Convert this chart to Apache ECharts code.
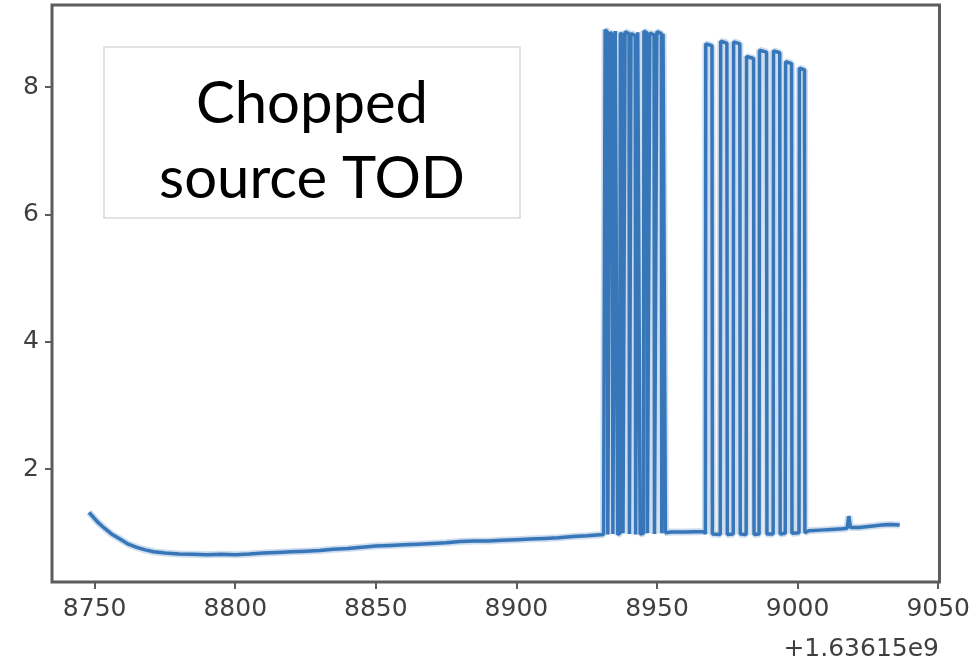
<!DOCTYPE html>
<html>
<head>
<meta charset="utf-8">
<title>Chopped source TOD</title>
<script src="https://cdn.jsdelivr.net/npm/echarts@6/dist/echarts.min.js"></script>
<style>
  html, body { margin: 0; padding: 0; background: #fff; }
  #tod { width: 973px; height: 671px; }
</style>
</head>
<body>
<div id="tod"></div>
<script>
    // time is seconds after 1.63615e9 (as shown by the axis offset)
    const offsetText = '+1.63615e9';

    // slow drift before the chopper starts
    const driftT = [8748.0, 8749, 8751, 8753.5, 8756, 8759, 8762, 8765, 8768, 8771, 8775, 8780, 8785, 8790, 8795, 8800,
        8805, 8810, 8815, 8820, 8825, 8830, 8835, 8840, 8845, 8850, 8855, 8860, 8865, 8870, 8875, 8880, 8885, 8890,
        8895, 8900, 8905, 8910, 8915, 8920, 8925, 8931.0];
    const driftV = [1.32, 1.27, 1.17, 1.07, 0.98, 0.90, 0.82, 0.77, 0.73, 0.70, 0.68, 0.665, 0.66, 0.655, 0.66, 0.655,
        0.665, 0.68, 0.69, 0.70, 0.71, 0.72, 0.74, 0.75, 0.77, 0.79, 0.80, 0.81, 0.82, 0.83, 0.84, 0.86, 0.87, 0.87,
        0.88, 0.89, 0.90, 0.91, 0.92, 0.94, 0.95, 0.97];

    // first chopped block: pulse start, pulse end, pulse top
    const chop1Start = [8931.4, 8933.2, 8935.0, 8936.8, 8938.5, 8940.6, 8943.0, 8945.2, 8947.3, 8949.8, 8952.0];
    const chop1End   = [8932.5, 8934.3, 8936.0, 8937.9, 8940.2, 8942.4, 8944.0, 8946.6, 8949.1, 8951.7, 8953.0];
    const chop1Top   = [8.90, 8.86, 8.88, 8.85, 8.87, 8.84, 8.86, 8.88, 8.85, 8.87, 8.84];
    const chop1Low   = [0.97, 0.98, 0.97, 0.99, 0.98, 0.97, 0.98, 0.99, 0.98, 0.99, 1.00];

    // flat stretch between the two blocks
    const gapT = [8955, 8960, 8966.8];
    const gapV = [1.01, 1.01, 1.02];

    // second chopped block
    const chop2Start = [8967.2, 8972.5, 8977.1, 8981.7, 8986.3, 8991.3, 8995.6, 9000.5];
    const chop2End   = [8969.7, 8975.0, 8979.6, 8984.5, 8989.1, 8993.8, 8998.0, 9002.6];
    const chop2Top   = [8.68, 8.72, 8.71, 8.48, 8.58, 8.57, 8.40, 8.30];
    const chop2Low   = [0.98, 0.97, 0.98, 0.97, 0.98, 0.98, 0.99, 1.00];

    // after the chopper stops
    const tailT = [9004, 9008, 9012, 9016, 9017.6, 9018.2, 9018.8, 9022, 9026, 9030, 9033, 9036.3];
    const tailV = [1.03, 1.04, 1.05, 1.06, 1.07, 1.26, 1.08, 1.08, 1.10, 1.12, 1.13, 1.12];

    const xTicks = [8750, 8800, 8850, 8900, 8950, 9000, 9050];
    const yTicks = [2, 4, 6, 8];

    // assemble one trace, like a single plt.plot call
    let tod = [];
    driftT.forEach((t, i) => tod.push([t, driftV[i]]));
    function addPulses(starts, ends, tops, lows) {
        starts.forEach((s, i) => {
            tod.push([s, lows[i]]);
            tod.push([s + 0.15, tops[i]]);
            tod.push([ends[i] - 0.15, tops[i] - 0.03]);
            tod.push([ends[i], lows[i]]);
        });
    }
    addPulses(chop1Start, chop1End, chop1Top, chop1Low);
    gapT.forEach((t, i) => tod.push([t, gapV[i]]));
    addPulses(chop2Start, chop2End, chop2Top, chop2Low);
    tailT.forEach((t, i) => tod.push([t, tailV[i]]));

    const frame = '#5c5c5c';
    const labelFont = "'DejaVu Sans', sans-serif";
    const lineColor = '#3776b8';

    let myChart = echarts.init(document.getElementById('tod'));
    let option = {
        animation: false,
        backgroundColor: '#ffffff',
        grid: {
            left: 52,
            right: 30,
            top: 5,
            bottom: 89,
            show: true,
            borderColor: frame,
            borderWidth: 3,
            backgroundColor: 'transparent'
        },
        xAxis: {
            type: 'value',
            min: 8734.84,
            max: 9050.46,
            splitLine: {show: false},
            axisLine: {show: false},
            axisTick: {
                show: true,
                length: 7,
                customValues: xTicks,
                lineStyle: {color: frame, width: 2}
            },
            axisLabel: {
                customValues: xTicks,
                formatter: (v) => String(v),
                margin: 15,
                color: '#3f3f3f',
                fontSize: 25,
                fontFamily: labelFont
            }
        },
        yAxis: {
            type: 'value',
            min: 0.225,
            max: 9.29,
            splitLine: {show: false},
            axisLine: {show: false},
            axisTick: {
                show: true,
                length: 7,
                customValues: yTicks,
                lineStyle: {color: frame, width: 2}
            },
            axisLabel: {
                customValues: yTicks,
                formatter: (v) => String(v),
                margin: 13,
                color: '#3f3f3f',
                fontSize: 25,
                fontFamily: labelFont
            }
        },
        graphic: [
            {
                type: 'rect',
                shape: {x: 104, y: 47, width: 416, height: 171},
                style: {fill: '#ffffff', stroke: '#d9d9d9', lineWidth: 1.5},
                z: 10
            },
            {
                type: 'text',
                x: 312,
                y: 104,
                style: {
                    text: 'Chopped',
                    fill: '#000',
                    font: "58px Lato, 'Open Sans', sans-serif",
                    align: 'center',
                    verticalAlign: 'middle'
                },
                z: 11
            },
            {
                type: 'text',
                x: 312,
                y: 179,
                style: {
                    text: 'source TOD',
                    fill: '#000',
                    font: "58px Lato, 'Open Sans', sans-serif",
                    align: 'center',
                    verticalAlign: 'middle'
                },
                z: 11
            },
            {
                type: 'text',
                right: 34,
                top: 637,
                style: {
                    text: offsetText,
                    fill: '#3f3f3f',
                    font: "25px " + labelFont
                }
            }
        ],
        series: [
            {
                // soft halo, the reference trace is a blurred raster
                name: 'halo',
                type: 'line',
                data: tod,
                symbol: 'none',
                silent: true,
                lineStyle: {color: lineColor, width: 7, opacity: 0.25},
                z: 1
            },
            {
                name: 'TOD',
                type: 'line',
                data: tod,
                symbol: 'none',
                lineStyle: {color: lineColor, width: 3.5},
                z: 2
            }
        ]
    };
    myChart.setOption(option);
</script>
</body>
</html>
